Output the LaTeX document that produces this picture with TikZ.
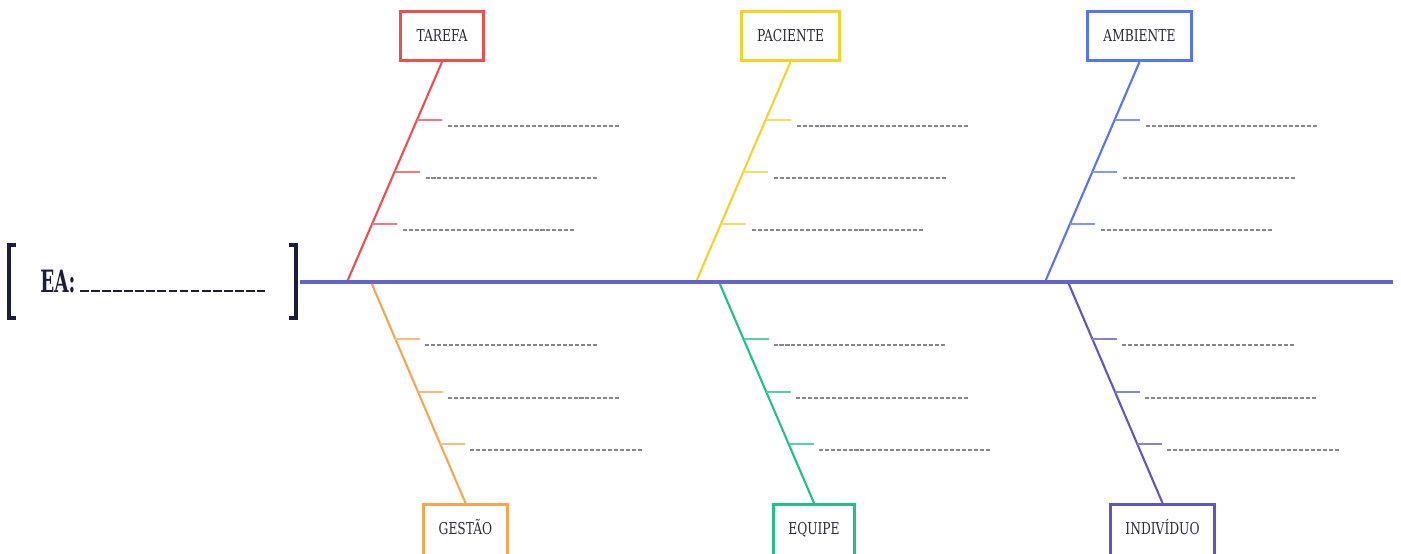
\documentclass[tikz,border=0pt]{standalone}
\usepackage{fontspec}
\setmainfont{DejaVu Serif}
\usetikzlibrary{calc}
\definecolor{cred}{HTML}{F04E4E}
\definecolor{cyel}{HTML}{F3D22B}
\definecolor{cblu}{HTML}{5774F6}
\definecolor{cora}{HTML}{F7A650}
\definecolor{cgrn}{HTML}{22BE8C}
\definecolor{cpur}{HTML}{5E56C8}
\definecolor{cspine}{HTML}{6464CC}
\definecolor{cnavy}{HTML}{1C1C3E}
\definecolor{cdash}{HTML}{86848F}
\definecolor{ctext}{HTML}{2A2A3A}
\newcommand\boxlabel[1]{\scalebox{0.75}[1]{#1}}
\begin{document}
\begin{tikzpicture}[x=0.02cm,y=-0.02cm,
  box/.style={draw=#1, line width=1.7pt, fill=white, minimum height=0.98cm,
    inner sep=0pt, text=ctext, font=\fontsize{9.3}{11}\selectfont},
  lowbox/.style={box=#1, minimum height=1.2cm, anchor=north, text height=8pt, text depth=8pt},
  bone/.style={draw=#1, line width=1.2pt},
  rib/.style={draw=#1!75, line width=1.2pt},
  blank/.style={draw=cdash, line width=0.75pt, dash pattern=on 2.3pt off 1.1pt},
  spine/.style={draw=cspine, line width=2.1pt},
  brk/.style={draw=cnavy, line width=2pt}]
\useasboundingbox (0,0) rectangle (1401,554);
\clip (0,0) rectangle (1401,554);
% category boxes
\node[box=cred, minimum width=1.66cm] (T) at (442,36) {\boxlabel{TAREFA}};
\node[box=cyel, minimum width=1.96cm] (P) at (790.5,36) {\boxlabel{PACIENTE}};
\node[box=cblu, minimum width=2.08cm] (A) at (1139.5,36) {\boxlabel{AMBIENTE}};
\node[lowbox=cora, minimum width=1.68cm] (G) at (465.5,503) {\boxlabel{GESTÃO}};
\node[lowbox=cgrn, minimum width=1.62cm] (E) at (814,503) {\boxlabel{EQUIPE}};
\node[lowbox=cpur, minimum width=2.08cm] (I) at (1162.5,503) {\boxlabel{INDIVÍDUO}};
% spine points
\coordinate (s0) at (300,282);
\coordinate (s1) at (1393,282);
\coordinate (t0) at (347,282);
\coordinate (p0) at (696,282);
\coordinate (a0) at (1045,282);
\coordinate (g0) at (371,282);
\coordinate (e0) at (719,282);
\coordinate (i0) at (1068,282);
% upper bones
\foreach \b/\c/\col in {T/t0/cred, P/p0/cyel, A/a0/cblu}{
  \draw[bone=\col] (\b.south) -- (\c);
  \foreach \p in {0.2636,0.5,0.736}{
    \path (\b.south) -- (\c) coordinate[pos=\p] (r);
    \draw[rib=\col] (r) -- ++(25,0);
    \draw[blank] ($(r)+(31,6)$) -- ++(173,0);
  }
}
% lower bones
\foreach \b/\c/\col in {G/g0/cora, E/e0/cgrn, I/i0/cpur}{
  \draw[bone=\col] (\c) -- (\b.north);
  \foreach \p in {0.258,0.498,0.733}{
    \path (\c) -- (\b.north) coordinate[pos=\p] (r);
    \draw[rib=\col] (r) -- ++(25,0);
    \draw[blank] ($(r)+(30,6)$) -- ++(173,0);
  }
}
% spine
\draw[spine] (s0) -- (s1);
% head: EA bracket
\draw[brk] (16,245) -- (9,245) -- (9,318) -- (16,318);
\draw[brk] (289,245) -- (296,245) -- (296,318) -- (289,318);
\node[anchor=base west, inner sep=0pt, text=cnavy,
  font=\fontsize{17.5}{20}\selectfont\bfseries] (ea) at (40,293) {\scalebox{0.6}[1]{EA:}};
\draw[draw=cnavy, line width=1.6pt, dash pattern=on 5pt off 1.3pt] (80,291) -- (265,291);
\end{tikzpicture}
\end{document}
